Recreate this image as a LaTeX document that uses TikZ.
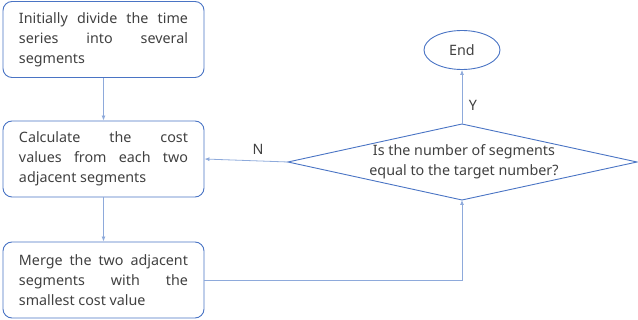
\documentclass[tikz,border=0pt]{standalone}
\usepackage{fontspec}
\setmainfont{Noto Sans}
\usetikzlibrary{shapes.geometric,arrows.meta}
\definecolor{boxblue}{HTML}{4A74C4}
\definecolor{arrblue}{HTML}{8EAADB}
\definecolor{txt}{HTML}{404040}
\begin{document}
\begin{tikzpicture}[x=1pt,y=-1pt,
  font=\fontsize{14.3}{20}\selectfont, text=txt,
  procbox/.style={draw=boxblue, line width=0.9pt, rounded corners=9pt, minimum width=201pt, minimum height=76pt, text width=169pt, align=justify, inner xsep=16pt, inner ysep=4pt},
  conn/.style={draw=arrblue, line width=0.8pt, -{Latex[length=5pt,width=4pt]}},
  lbl/.style={text=txt, inner sep=0pt}]
\useasboundingbox (0,0) rectangle (638,320);
\hyphenpenalty=10000
\node[procbox] (b1) at (103.5,39.5) {Initially divide the time\linebreak series into several\linebreak segments};
\node[procbox] (b2) at (103.5,159) {Calculate the cost\linebreak values from each two\linebreak adjacent segments};
\node[procbox] (b3) at (103.5,280) {Merge the two adjacent\linebreak segments with the\linebreak smallest cost value};
\node[draw=boxblue, line width=0.9pt, ellipse, minimum width=76pt, minimum height=39pt, inner sep=0pt] (end) at (462,50) {End};
\coordinate (dt) at (462,124);
\coordinate (dl) at (288,162);
\coordinate (dr) at (637,162);
\coordinate (db) at (462,200);
\draw[boxblue, line width=0.9pt] (dt) -- (dr) -- (db) -- (dl) -- cycle;
\node[align=center, inner sep=0pt] (q) at (464,162) {Is the number of segments\\equal to the target number?};
\draw[conn] (b1.south) -- (b2.north);
\draw[conn] (b2.south) -- (b3.north);
\draw[conn] (b3.east) -| (db);
\draw[conn] (dl) -- (b2.east);
\draw[conn] (dt) -- (end.south);
\node[lbl] (n) at (258,149) {N};
\node[lbl] (y) at (473,105) {Y};
\end{tikzpicture}
\end{document}
